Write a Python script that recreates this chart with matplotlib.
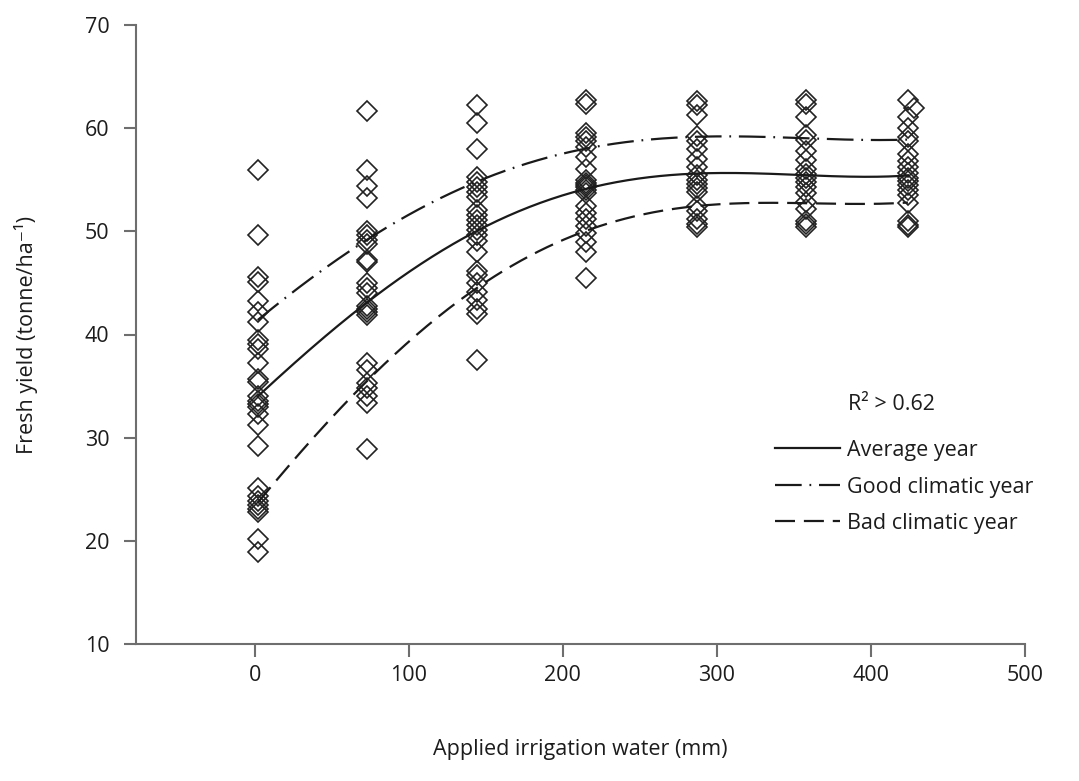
import numpy as np
import matplotlib
matplotlib.use('Agg')
import matplotlib.pyplot as plt

plt.rcParams['font.family'] = ['Open Sans', 'DejaVu Sans']

# irrigation levels (mm) of the observations
irrigation = [2, 73, 144, 215, 287, 358, 424]

# observed fresh yields (tonne/ha) per irrigation level
yield_0 = [55.9, 49.6, 45.6, 45.1, 43.2, 42.2, 41.2, 39.5, 39.1, 38.6, 37.2, 35.7,
           35.4, 34.0, 33.6, 33.3, 33.0, 32.3, 31.2, 29.2, 25.1, 24.3, 23.9, 23.5,
           23.1, 22.8, 20.2, 18.9]
yield_73 = [61.7, 55.9, 54.4, 53.2, 50.0, 49.6, 49.2, 48.8, 47.2, 47.0, 45.0, 44.5,
            44.0, 42.8, 42.5, 42.2, 41.9, 37.2, 36.6, 35.3, 34.8, 34.0, 33.4, 28.9]
yield_144 = [62.2, 60.5, 58.0, 55.3, 54.8, 54.3, 53.8, 53.3, 52.1, 51.6, 51.1, 50.6,
             50.1, 49.6, 49.1, 48.0, 46.2, 45.8, 45.0, 44.1, 43.3, 42.5, 42.0, 37.5]
yield_215 = [62.7, 62.3, 59.5, 59.1, 58.8, 58.2, 57.2, 56.0, 55.0, 54.7, 54.5, 54.3,
             54.0, 53.7, 52.5, 51.8, 51.2, 50.5, 49.8, 49.0, 48.0, 45.5]
yield_287 = [62.6, 62.2, 61.3, 59.2, 58.8, 58.0, 57.0, 56.2, 55.5, 55.0, 54.6, 54.2,
             53.8, 52.5, 52.0, 51.2, 50.7, 50.4]
yield_358 = [62.7, 62.3, 61.1, 59.3, 58.9, 57.8, 56.9, 56.0, 55.6, 55.2, 54.8, 54.3,
             53.7, 52.8, 52.2, 51.0, 50.7, 50.4]
yield_424 = [62.7, 61.1, 60.0, 59.1, 58.8, 57.5, 56.8, 56.2, 55.7, 55.2, 54.9, 54.5,
             54.0, 53.5, 52.7, 51.0, 50.6, 50.4]
extra_x = [428]
extra_y = [62.0]
observed = [yield_0, yield_73, yield_144, yield_215, yield_287, yield_358, yield_424]

# regression curve values read at the irrigation levels
curve_average = [34.0, 43.1, 50.0, 54.2, 55.5, 55.5, 55.4]
curve_good = [41.4, 49.2, 54.8, 58.0, 59.2, 59.0, 58.9]
curve_bad = [23.7, 35.5, 44.5, 50.0, 52.5, 52.7, 52.8]

FS = 15.5
TXT = '#1c1c1c'

fig = plt.figure(figsize=(10.79, 7.81), dpi=100)
ax = fig.add_axes([136 / 1079, 1 - 644 / 781, (1025 - 136) / 1079, (644 - 25) / 781])

for xv, ys in zip(irrigation, observed):
    ax.plot([xv] * len(ys), ys, linestyle='none', marker='D', markersize=10,
            markerfacecolor='none', markeredgecolor='#222222', markeredgewidth=1.2)
ax.plot(extra_x, extra_y, linestyle='none', marker='D', markersize=10,
        markerfacecolor='none', markeredgecolor='#222222', markeredgewidth=1.2)

# smooth polynomial trend through the read curve values
xs = np.linspace(irrigation[0], irrigation[-1], 300)
styles = [
    (curve_average, 'Average year', None),
    (curve_good, 'Good climatic year', (12, 3.5, 0.8, 3.5)),
    (curve_bad, 'Bad climatic year', (9, 4)),
]
handles = []
for vals, label, dashes in styles:
    coef = np.polyfit(irrigation, vals, 4)
    line, = ax.plot(xs, np.polyval(coef, xs), color='#1a1a1a', linewidth=1.6, label=label)
    if dashes is not None:
        line.set_dashes(dashes)
    handles.append(line)

ax.set_xlim(-77, 500)
ax.set_ylim(10, 70)
ax.set_xticks([0, 100, 200, 300, 400, 500])
ax.set_yticks([10, 20, 30, 40, 50, 60, 70])
for s in ['top', 'right']:
    ax.spines[s].set_visible(False)
for s in ['left', 'bottom']:
    ax.spines[s].set_color('#6e6e6e')
    ax.spines[s].set_linewidth(1.5)
ax.tick_params(direction='out', length=9, width=1.5, color='#6e6e6e',
               labelsize=FS, labelcolor=TXT)
ax.tick_params(axis='x', pad=6)
ax.tick_params(axis='y', pad=10)

ax.set_xlabel('Applied irrigation water (mm)', fontsize=FS, color=TXT, labelpad=38)
ax.set_ylabel('Fresh yield (tonne/ha\u207b\u00b9)', fontsize=FS, color=TXT, labelpad=34)

fig.text(848 / 1079, 1 - 405 / 781, 'R\u00b2 > 0.62', fontsize=FS, color=TXT,
         va='center', ha='left')
fig.legend(handles=handles, loc='upper left', bbox_to_anchor=(775 / 1079, 1 - 440 / 781),
           frameon=False, fontsize=FS, handlelength=3.0, handletextpad=0.35,
           labelspacing=0.72, borderpad=0, borderaxespad=0, labelcolor=TXT)

fig.savefig('out.png', dpi=100)
